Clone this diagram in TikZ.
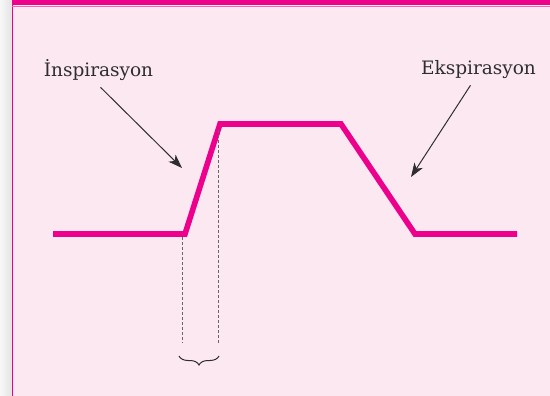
\documentclass[tikz,border=0pt]{standalone}
\usepackage{fontspec}
\newfontfamily\labelfont{DejaVu Serif}
\usetikzlibrary{arrows.meta,decorations.pathreplacing}
\definecolor{magentaline}{HTML}{EC008C}
\definecolor{pinkbg}{HTML}{FCE8F1}
\definecolor{textgray}{HTML}{2E2E2E}
\begin{document}
\begin{tikzpicture}[
    x=1pt, y=-1pt,
    curve/.style={magentaline, line width=5.6pt, line join=miter},
    mylabel/.style={textgray, font=\labelfont\fontsize{18.5}{21}\selectfont, inner sep=0pt, anchor=base},
    pointer/.style={textgray, line width=1pt, -{Stealth[length=14pt,width=10pt,inset=4pt]}},
    guide/.style={gray!80!black, line width=0.8pt, dash pattern=on 3pt off 2pt}
]
    % Frame
    \useasboundingbox (0,0) rectangle (550,396);
    \shade[left color=gray!6, right color=gray!22] (0,0) rectangle (12,396);
    \fill[pinkbg] (12,0) rectangle (550,396);
    \draw[magentaline, line width=1pt] (12.5,0) -- (12.5,396);
    \fill[magentaline] (12,0) rectangle (550,5.5);
    \draw[magentaline!60, line width=0.8pt] (12,6) -- (550,6);

    % Breathing curve
    \draw[curve] (53,234) -- (185,234) -- (220,124) -- (341,124) -- (415,234) -- (517,234);

    % Guides
    \draw[guide] (182,237) -- (182,343);
    \draw[guide] (218,130) -- (218,343);
    \draw[textgray, line width=1pt, decorate, decoration={brace, amplitude=9pt, mirror}]
        (179,356) -- (219,356);

    % Labels
    \node[mylabel] (insp) at (98.5,77) {İnspirasyon};
    \node[mylabel] (eksp) at (478.5,75) {Ekspirasyon};
    \coordinate (inspend) at (182,168);
    \coordinate (ekspend) at (411,177);
    \draw[pointer] ([xshift=2pt, yshift=-6pt]insp.south) -- (inspend);
    \draw[pointer] ([xshift=-8pt, yshift=-6pt]eksp.south) -- (ekspend);
\end{tikzpicture}
\end{document}
